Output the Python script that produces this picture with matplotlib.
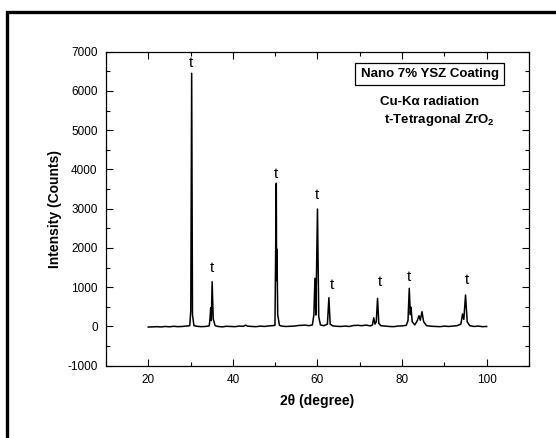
import matplotlib
matplotlib.use("Agg")
import matplotlib.pyplot as plt
from matplotlib.patches import Rectangle
from matplotlib.ticker import MultipleLocator

plt.rcParams["font.family"] = ["Liberation Sans", "DejaVu Sans"]
plt.rcParams["mathtext.fontset"] = "custom"
plt.rcParams["mathtext.rm"] = "Liberation Sans:bold"
plt.rcParams["mathtext.bf"] = "Liberation Sans:bold"
plt.rcParams["axes.unicode_minus"] = False

# XRD trace (2-theta in degrees, intensity in counts)
two_theta = [20.0, 21.0, 22.0, 23.0, 24.0, 25.0, 26.0, 27.0, 28.0, 29.0,
             29.8, 30.05, 30.26, 30.45, 30.8, 31.5, 32.5, 33.5, 34.4, 34.6,
             34.75, 34.9, 35.1, 35.35, 35.8, 36.5, 37.5, 38.5, 39.5, 40.5,
             41.5, 42.5, 43.0, 43.4, 44.5, 45.5, 46.5, 47.5, 48.5, 49.3,
             49.95, 50.26, 50.34, 50.42, 50.6, 51.0, 51.5, 52.5, 53.5, 54.5,
             55.5, 56.3, 57.0, 58.0, 58.8, 59.15, 59.4, 59.62, 60.0, 60.3,
             60.7, 61.5, 62.35, 62.7, 63.0, 63.6, 64.5, 65.5, 66.5, 67.5,
             68.5, 69.5, 70.5, 71.5, 72.5, 73.0, 73.3, 73.6, 73.9, 74.2,
             74.5, 75.0, 76.0, 77.0, 78.0, 79.0, 80.0, 81.0, 81.4, 81.7,
             81.95, 82.1, 82.4, 83.0, 83.6, 84.0, 84.3, 84.7, 85.1, 85.8,
             87.0, 88.0, 89.0, 90.0, 91.0, 92.0, 93.0, 93.9, 94.3, 94.6,
             95.0, 95.4, 96.0, 97.0, 98.0, 99.0, 100.0]
counts = [-15, -10, -5, -12, 0, -8, 5, -5, 0, 10,
          20, 400, 6450, 300, 20, 5, -5, 0, 15, 200,
          477, 150, 1140, 200, 20, 0, -10, 5, 0, -5,
          10, 5, 35, 10, 0, -5, 10, 0, 15, 20,
          30, 3650, 1170, 1970, 300, 30, 10, 0, 5, 10,
          25, 30, 35, 20, 40, 300, 1227, 290, 2992, 250,
          40, 20, 60, 732, 60, 15, 5, 0, 10, 0,
          25, 30, 20, 35, 15, 40, 222, 60, 120, 717,
          80, 20, 10, 0, -5, 10, 15, 30, 150, 972,
          300, 490, 120, 40, 150, 274, 160, 376, 120, 20,
          5, 0, -5, 10, 0, 10, 20, 60, 318, 180,
          801, 120, 20, 0, 10, -5, 0]

# "t" (tetragonal) peak markers
label_x = [30.1, 35.0, 50.1, 59.8, 63.4, 74.8, 81.7, 95.3]
label_y = [6704, 1481, 3884, 3350, 1056, 1140, 1252, 1184]

fig = plt.figure(figsize=(5.56, 4.38), dpi=100)
ax = fig.add_axes([0.1906, 0.165, 0.7608, 0.717])

ax.plot(two_theta, counts, color="black", lw=1.1)

for x, y in zip(label_x, label_y):
    ax.text(x, y, "t", ha="center", va="center", fontsize=11)

ax.set_xlim(10, 110)
ax.set_ylim(-1000, 7000)
ax.set_xticks([20, 40, 60, 80, 100])
ax.xaxis.set_minor_locator(MultipleLocator(10))
ax.yaxis.set_major_locator(MultipleLocator(1000))
ax.yaxis.set_minor_locator(MultipleLocator(500))
ax.tick_params(which="both", direction="in", top=True, right=True,
               labelsize=8.5, width=0.8)
ax.tick_params(which="major", length=5, pad=6)
ax.tick_params(which="minor", length=3)
for s in ax.spines.values():
    s.set_linewidth(0.9)

ax.set_xlabel("2θ (degree)", fontsize=10, fontweight="bold", labelpad=6)
ax.set_ylabel("Intensity (Counts)", fontsize=10, fontweight="bold", labelpad=4)

ax.text(86.5, 6432, "Nano 7% YSZ Coating", ha="center", va="center",
        fontsize=9.5, fontweight="bold",
        bbox=dict(boxstyle="square,pad=0.4", fc="white", ec="black", lw=0.9))
ax.text(74.8, 5726, "Cu-Kα radiation", ha="left", va="center",
        fontsize=9.5, fontweight="bold")
ax.text(75.7, 5260, r"t-Tetragonal ZrO$_\mathbf{2}$", ha="left", va="center",
        fontsize=9.5, fontweight="bold")

# outer frame around the figure
fig.patches.append(Rectangle((6.5 / 556, -0.05), 1.2, 1 - 11.5 / 438 + 0.05,
                             transform=fig.transFigure, fill=False,
                             ec="black", lw=2.4, clip_on=False))

fig.savefig("out.png", dpi=100)
